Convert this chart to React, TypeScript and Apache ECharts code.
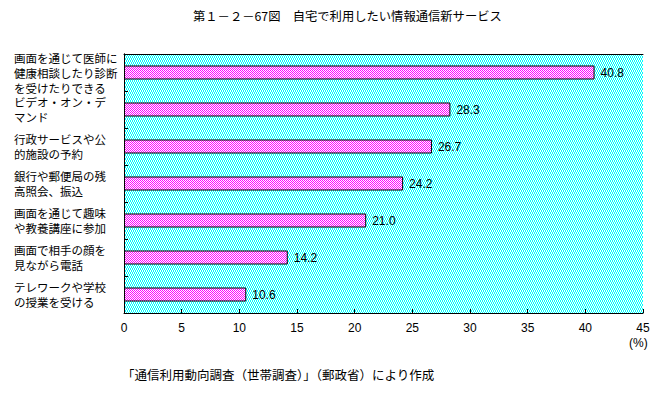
import React, { useEffect, useRef } from "react";
import * as echarts from "echarts";

const titleText = "第１－２－67図　自宅で利用したい情報通信新サービス";
const sourceText = "「通信利用動向調査（世帯調査）」（郵政省）により作成";
const unitText = "(%)";

const categories = [
  "画面を通じて医師に\n健康相談したり診断\nを受けたりできる",
  "ビデオ・オン・デ\nマンド",
  "行政サービスや公\n的施設の予約",
  "銀行や郵便局の残\n高照会、振込",
  "画面を通じて趣味\nや教養講座に参加",
  "画面で相手の顔を\n見ながら電話",
  "テレワークや学校\nの授業を受ける",
];
const values = [40.8, 28.3, 26.7, 24.2, 21.0, 14.2, 10.6];
const xMin = 0;
const xMax = 45;
const xStep = 5;

const FONT = "'Noto Sans CJK JP', 'Noto Sans', sans-serif";
const NUMFONT = "'Liberation Sans', 'DejaVu Sans', sans-serif";

function makePattern(w: number, h: number, cells: number[][], color: string) {
  const c = document.createElement("canvas");
  c.width = w;
  c.height = h;
  const ctx = c.getContext("2d")!;
  ctx.fillStyle = "#ffffff";
  ctx.fillRect(0, 0, w, h);
  ctx.fillStyle = color;
  cells.forEach(([x, y]) => ctx.fillRect(x, y, 1, 1));
  return { image: c, repeat: "repeat", imageWidth: w, imageHeight: h } as any;
}

export default function App() {
  const ref = useRef<HTMLDivElement>(null);
  useEffect(() => {
    if (!ref.current) return;
    const chart = echarts.init(ref.current, null, { renderer: "svg" });
    const bgPattern = makePattern(
      4,
      4,
      [
        [0, 0],
        [2, 0],
        [0, 1],
        [2, 1],
        [1, 2],
        [3, 2],
        [1, 3],
        [3, 3],
      ],
      "#00ffff"
    );
    const barPattern = makePattern(
      2,
      2,
      [
        [0, 0],
        [1, 1],
      ],
      "#ff00ff"
    );
    const plain = { show: false };
    chart.setOption({
      animation: false,
      textStyle: { fontFamily: FONT },
      grid: { left: 124, right: 23, top: 54, bottom: 80, show: false },
      xAxis: [
        {
          type: "value",
          min: xMin,
          max: xMax,
          interval: xStep,
          axisLine: { show: true, lineStyle: { color: "#000", width: 1 } },
          axisTick: { show: true, inside: true, length: 4, lineStyle: { color: "#000" } },
          splitLine: plain,
          axisLabel: { color: "#000", fontSize: 12, margin: 9, fontFamily: NUMFONT },
        },
        {
          type: "value",
          position: "top",
          min: xMin,
          max: xMax,
          interval: xStep,
          axisLine: { show: true, lineStyle: { color: "#000", width: 1 } },
          axisTick: plain,
          splitLine: plain,
          axisLabel: plain,
        },
      ],
      yAxis: [
        {
          type: "category",
          data: categories,
          inverse: true,
          axisLine: { show: true, lineStyle: { color: "#000", width: 1 } },
          axisTick: { show: true, inside: true, length: 4, interval: 0, lineStyle: { color: "#000" } },
          axisLabel: {
            color: "#000",
            fontSize: 11.5,
            lineHeight: 15,
            align: "left",
            margin: 110,
            interval: 0,
            hideOverlap: false,
          },
        },
        {
          type: "category",
          data: categories,
          inverse: true,
          position: "right",
          axisLine: { show: true, lineStyle: { color: "#000", width: 1 } },
          axisTick: plain,
          axisLabel: plain,
        },
      ],
      series: [
        {
          type: "bar",
          data: categories.map(() => xMax),
          xAxisIndex: 0,
          yAxisIndex: 1,
          barWidth: "100%",
          silent: true,
          z: -1,
          itemStyle: { color: bgPattern, borderWidth: 0 },
          label: { show: false },
        },
        {
          type: "bar",
          data: values,
          xAxisIndex: 0,
          yAxisIndex: 0,
          barWidth: 14,
          z: 3,
          itemStyle: { color: barPattern, borderColor: "#000", borderWidth: 1 },
          label: {
            show: true,
            position: "right",
            distance: 6,
            color: "#000",
            fontSize: 12,
            fontFamily: NUMFONT,
            formatter: (p: any) => Number(p.value).toFixed(1),
          },
        },
      ],
      graphic: [
        {
          type: "text",
          left: 193,
          top: 10,
          style: { text: titleText, fill: "#000", fontSize: 12.3, fontFamily: FONT },
        },
        {
          type: "text",
          left: 122,
          top: 368,
          style: { text: sourceText, fill: "#000", fontSize: 12.5, fontFamily: FONT },
        },
        {
          type: "text",
          left: 629,
          top: 337,
          style: { text: unitText, fill: "#000", fontSize: 12, fontFamily: NUMFONT },
        },
      ],
    });
    return () => chart.dispose();
  }, []);
  return <div ref={ref} style={{ width: 666, height: 393, margin: -8 }} />;
}
